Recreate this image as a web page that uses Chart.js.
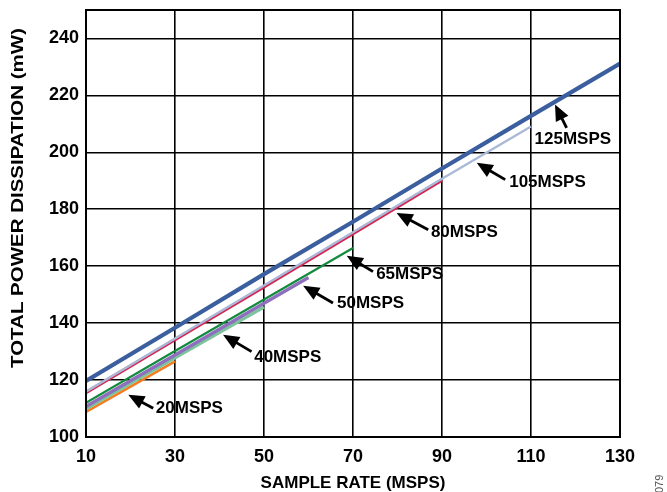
<!DOCTYPE html>
<html>
<head>
<meta charset="utf-8">
<script src="https://cdn.jsdelivr.net/npm/chart.js@4/dist/chart.umd.min.js"></script>
<style>
html,body{margin:0;padding:0;background:#fff;}
#wrap{width:667px;height:492px;position:relative;}
</style>
</head>
<body>
<div id="wrap"><canvas id="c" width="667" height="492"></canvas></div>
<script>
// ---- data ----
const xTicks = [10, 30, 50, 70, 90, 110, 130];
const yTicks = [100, 120, 140, 160, 180, 200, 220, 240];

const seriesNames = ['125MSPS', '80MSPS', '105MSPS', '65MSPS', '50MSPS', '40MSPS', '20MSPS'];

const x125 = [10, 30, 50, 70, 90, 110, 130];
const y125 = [119.7, 138.4, 157.2, 175.6, 194.3, 212.8, 231.2];
const x105 = [10, 30, 50, 70, 90, 110];
const y105 = [115.9, 134.6, 153.2, 171.9, 190.7, 209.1];
const x80 = [10, 30, 50, 70, 90];
const y80 = [115.6, 134.2, 152.8, 171.5, 190.3];
const x65 = [10, 30, 50, 70];
const y65 = [112.0, 130.2, 148.3, 166.4];
const x50 = [10, 30, 50, 60];
const y50 = [110.7, 128.8, 147.0, 156.0];
const x40 = [10, 30, 50];
const y40 = [109.9, 127.8, 145.6];
const x20 = [10, 20, 30];
const y20 = [108.8, 117.7, 126.6];

// annotation callouts (data coordinates)
const calloutText = ['125MSPS', '105MSPS', '80MSPS', '65MSPS', '50MSPS', '40MSPS', '20MSPS'];
const calloutTipX = [115.4, 97.8, 79.8, 68.6, 58.8, 40.8, 19.5];
const calloutTipY = [216.8, 196.3, 178.7, 163.7, 153.1, 135.9, 114.8];
const calloutTailX = [118.0, 104.2, 86.9, 74.5, 65.5, 47.2, 25.1];
const calloutTailY = [208.6, 190.4, 172.8, 158.1, 147.1, 130.0, 110.1];
const calloutLabelX = [119.4, 105.1, 87.5, 75.2, 66.4, 47.8, 25.7];
const calloutLabelY = [204.5, 189.3, 171.8, 157.3, 147.1, 128.1, 110.2];

const xTitle = 'SAMPLE RATE (MSPS)';
const yTitle = 'TOTAL POWER DISSIPATION (mW)';
const figId = '079';

// ---- build ----
const pts = (xs, ys) => xs.map((x, i) => ({x: x, y: ys[i]}));
const FONT = '"Liberation Sans", Arial, sans-serif';

const datasets = [
  {label: seriesNames[0], data: pts(x125, y125), borderColor: '#3b5e9e', borderWidth: 4.2},
  {label: seriesNames[2], data: pts(x105, y105), borderColor: '#a9b9d7', borderWidth: 2.4},
  {label: seriesNames[1], data: pts(x80, y80), borderColor: '#d5224e', borderWidth: 3.4},
  {label: seriesNames[3], data: pts(x65, y65), borderColor: '#138a3e', borderWidth: 2.2},
  {label: seriesNames[4], data: pts(x50, y50), borderColor: '#8e6fbe', borderWidth: 3.4},
  {label: seriesNames[5], data: pts(x40, y40), borderColor: '#7cc49c', borderWidth: 3.2},
  {label: seriesNames[6], data: pts(x20, y20), borderColor: '#f47b20', borderWidth: 2.6}
].map(d => Object.assign(d, {pointRadius: 0, fill: false, tension: 0, borderCapStyle: 'butt'}));

const decor = {
  id: 'decor',
  afterDatasetsDraw(chart) {
    const ctx = chart.ctx;
    const xs = chart.scales.x, ys = chart.scales.y;
    const a = chart.chartArea;
    ctx.save();
    // frame
    ctx.strokeStyle = '#000';
    ctx.lineWidth = 2;
    ctx.strokeRect(a.left, a.top, a.right - a.left, a.bottom - a.top);
    // callouts
    ctx.fillStyle = '#000';
    ctx.strokeStyle = '#000';
    for (let i = 0; i < calloutText.length; i++) {
      const tx = xs.getPixelForValue(calloutTipX[i]), ty = ys.getPixelForValue(calloutTipY[i]);
      const bx = xs.getPixelForValue(calloutTailX[i]), by = ys.getPixelForValue(calloutTailY[i]);
      const ang = Math.atan2(ty - by, tx - bx);
      const headLen = 16, headW = 7;
      const hx = tx - headLen * Math.cos(ang), hy = ty - headLen * Math.sin(ang);
      ctx.lineWidth = 2.8;
      ctx.beginPath();
      ctx.moveTo(bx, by);
      ctx.lineTo(hx + 2 * Math.cos(ang), hy + 2 * Math.sin(ang));
      ctx.stroke();
      ctx.beginPath();
      ctx.moveTo(tx, ty);
      ctx.lineTo(hx + headW * Math.sin(ang), hy - headW * Math.cos(ang));
      ctx.lineTo(hx - headW * Math.sin(ang), hy + headW * Math.cos(ang));
      ctx.closePath();
      ctx.fill();
      ctx.font = 'bold 17px ' + FONT;
      ctx.textBaseline = 'middle';
      ctx.textAlign = i === 0 ? 'center' : 'left';
      ctx.fillText(calloutText[i], xs.getPixelForValue(calloutLabelX[i]), ys.getPixelForValue(calloutLabelY[i]));
    }
    // axis titles
    ctx.font = 'bold 17px ' + FONT;
    ctx.textAlign = 'center';
    ctx.textBaseline = 'middle';
    ctx.fillText(xTitle, (a.left + a.right) / 2, 483);
    ctx.save();
    ctx.translate(18, 198);
    ctx.rotate(-Math.PI / 2);
    const w = ctx.measureText(yTitle).width;
    ctx.scale(340 / w, 1);
    ctx.fillText(yTitle, 0, 0);
    ctx.restore();
    // figure id
    ctx.save();
    ctx.font = '11px ' + FONT;
    ctx.fillStyle = '#555';
    ctx.translate(665, 493);
    ctx.rotate(-Math.PI / 2);
    ctx.textAlign = 'left';
    ctx.textBaseline = 'bottom';
    ctx.fillText(figId, 0, 0);
    ctx.restore();
    ctx.restore();
  }
};

new Chart(document.getElementById('c'), {
  type: 'line',
  data: {datasets: datasets},
  options: {
    responsive: false,
    devicePixelRatio: 1,
    animation: false,
    layout: {padding: {top: 10, right: 47, left: 0, bottom: 0}},
    plugins: {legend: {display: false}, tooltip: {enabled: false}},
    scales: {
      x: {
        type: 'linear', min: 10, max: 130,
        afterBuildTicks: s => { s.ticks = xTicks.map(v => ({value: v})); },
        afterFit: s => { s.height = 55; s.paddingLeft = 0; s.paddingRight = 0; },
        grid: {color: '#000', lineWidth: 1.6, drawTicks: false},
        border: {display: true, color: '#000', width: 2},
        ticks: {color: '#000', padding: 9, maxRotation: 0, autoSkip: false,
          font: {family: FONT, size: 18, weight: 'bold'}}
      },
      y: {
        type: 'linear', min: 100, max: 250,
        afterBuildTicks: s => { s.ticks = yTicks.map(v => ({value: v})); },
        afterFit: s => { s.width = 86; s.paddingTop = 0; s.paddingBottom = 0; },
        grid: {color: '#000', lineWidth: 1.6, drawTicks: false},
        border: {display: true, color: '#000', width: 2},
        ticks: {color: '#000', padding: 7, autoSkip: false,
          font: {family: FONT, size: 18, weight: 'bold'}}
      }
    }
  },
  plugins: [decor]
});
</script>
</body>
</html>
